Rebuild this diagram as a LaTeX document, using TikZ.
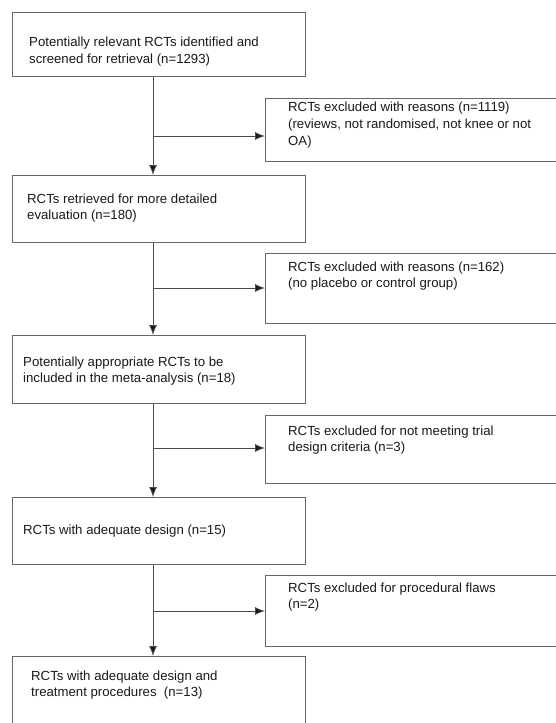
\documentclass[tikz,border=0pt]{standalone}
\usepackage{fontspec}
\setmainfont{Liberation Sans}
\usetikzlibrary{arrows.meta}
\begin{document}
\begin{tikzpicture}[x=1pt,y=-1pt,
  box/.style={draw=black!60, line width=0.8pt, anchor=north west, inner sep=0pt},
  txt/.style={anchor=west, align=left, inner sep=0pt, text=black!90,
    font=\fontsize{13.2}{16.6}\selectfont},
  flow/.style={draw=black!70, line width=0.8pt, -{Latex[length=10pt,width=8pt,fill=black!90]}}]
\useasboundingbox (0,0) rectangle (556,723);
% left boxes
\node[box, minimum width=293pt, minimum height=64pt] (b1) at (12,12) {};
\node[box, minimum width=293pt, minimum height=67pt] (b2) at (12,175) {};
\node[box, minimum width=293pt, minimum height=68pt] (b3) at (12,335) {};
\node[box, minimum width=293pt, minimum height=67pt] (b4) at (12,497) {};
\node[box, minimum width=293pt, minimum height=80pt] (b5) at (12,656) {};
% right boxes
\node[box, minimum width=300pt, minimum height=63pt] (r1) at (265,98) {};
\node[box, minimum width=300pt, minimum height=70pt] (r2) at (265,253) {};
\node[box, minimum width=300pt, minimum height=68pt] (r3) at (265,415) {};
\node[box, minimum width=300pt, minimum height=71pt] (r4) at (265,575) {};
% branch points on the main line
\coordinate (j1) at (153,136);
\coordinate (j2) at (153,288);
\coordinate (j3) at (153,448);
\coordinate (j4) at (153,611);
% texts
\node[txt] (t1) at (29,51.5) {Potentially relevant RCTs identified and\\screened for retrieval (n=1293)};
\node[txt] (t2) at (27,208) {RCTs retrieved for more detailed\\evaluation (n=180)};
\node[txt] (t3) at (23,371) {Potentially appropriate RCTs to be\\included in the meta-analysis (n=18)};
\node[txt] (t4) at (23,531) {RCTs with adequate design (n=15)};
\node[txt] (t5) at (31,685) {RCTs with adequate design and\\treatment procedures\ \ (n=13)};
\node[txt] (s1) at (288,125) {RCTs excluded with reasons (n=1119)\\(reviews, not randomised, not knee or not\\OA)};
\node[txt] (s2) at (288,276) {RCTs excluded with reasons (n=162)\\(no placebo or control group)};
\node[txt] (s3) at (288,440) {RCTs excluded for not meeting trial\\design criteria (n=3)};
\node[txt] (s4) at (288,597) {RCTs excluded for procedural flaws\\(n=2)};
% connectors
\draw[flow] (b1.south -| j1) -- (b2.north -| j1);
\draw[flow] (b2.south -| j2) -- (b3.north -| j2);
\draw[flow] (b3.south -| j3) -- (b4.north -| j3);
\draw[flow] (b4.south -| j4) -- (b5.north -| j4);
\draw[flow] (j1) -- (j1 -| r1.west);
\draw[flow] (j2) -- (j2 -| r2.west);
\draw[flow] (j3) -- (j3 -| r3.west);
\draw[flow] (j4) -- (j4 -| r4.west);
\end{tikzpicture}
\end{document}
